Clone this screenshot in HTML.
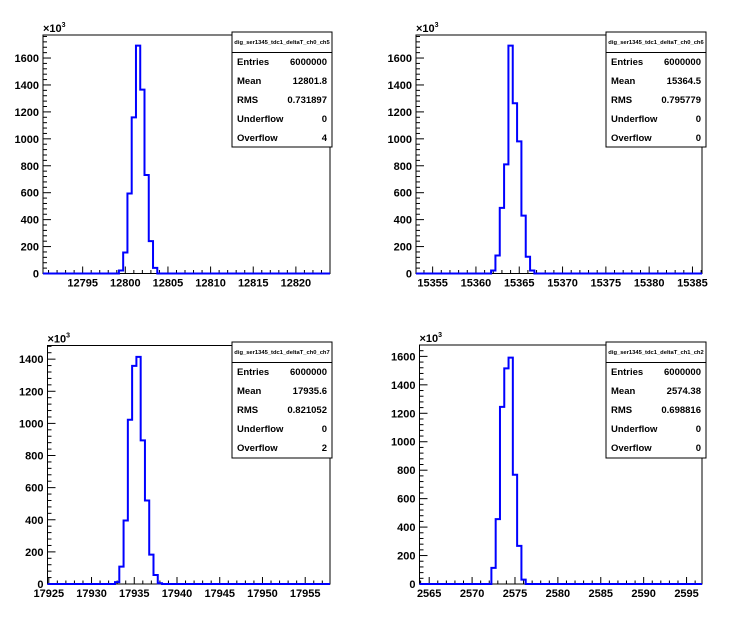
<!DOCTYPE html>
<html><head><meta charset="utf-8"><style>
body{margin:0;background:#fff;width:746px;height:622px;overflow:hidden}
svg{display:block;font-family:"Liberation Sans",Arial,sans-serif}
.tk{font-size:11px;font-weight:bold;fill:#000}
.st{font-size:9.5px;font-weight:bold;fill:#000}
</style></head><body>
<svg id="c" width="746" height="622" viewBox="0 0 746 622"></svg>
<script>
// ---- data ----
const titles = ["dig_ser1345_tdc1_deltaT_ch0_ch5","dig_ser1345_tdc1_deltaT_ch0_ch6","dig_ser1345_tdc1_deltaT_ch0_ch7","dig_ser1345_tdc1_deltaT_ch1_ch2"];
const countsA = [22,156,594,1159,1692,1365,731,240,42];
const countsB = [22,134,487,810,1692,1264,981,430,124,22];
const countsC = [12,108,395,1023,1358,1414,894,520,183,56,5];
const countsD = [113,456,1245,1516,1591,768,268,31];
const binStarts = [12799.25,15361.75,17932.75,2572.25];
const binWidth = 0.5;
const xMins = [12790.35,15353.08,17924.85,2563.87];
const xMaxs = [12824.0,15386.1,17957.9,2596.8];
const yMaxs = [1771,1771,1485,1680];
const yMajor = [200,200,200,200];
const xTickLabels = [["12795","12800","12805","12810","12815","12820"],["15355","15360","15365","15370","15375","15380","15385"],["17925","17930","17935","17940","17945","17950","17955"],["2565","2570","2575","2580","2585","2590","2595"]];
const statLabels = ["Entries","Mean","RMS","Underflow","Overflow"];
const statValues = [["6000000","12801.8","0.731897","0","4"],["6000000","15364.5","0.795779","0","0"],["6000000","17935.6","0.821052","0","2"],["6000000","2574.38","0.698816","0","0"]];
const allCounts = [countsA,countsB,countsC,countsD];
// ---- layout ----
const frames = [{l:43,r:330,t:35,b:273.5},{l:416,r:702,t:35,b:273.5},{l:47.5,r:330,t:345.5,b:584},{l:419.5,r:702,t:345,b:584}];
const boxes = [{l:232,r:332,t:32,b:147},{l:606,r:706,t:32,b:147},{l:232,r:332,t:342,b:458},{l:606,r:706,t:342,b:458}];
const svg = document.getElementById('c');
const NS = "http://www.w3.org/2000/svg";
function mk(tag, attrs, parent){const e=document.createElementNS(NS,tag);for(const k in attrs)e.setAttribute(k,attrs[k]);(parent||svg).appendChild(e);return e;}
for(let p=0;p<4;p++){
  const f=frames[p];
  const g=mk('g',{});
  
  
  const X=v=>f.l+(v-xMins[p])/(xMaxs[p]-xMins[p])*(f.r-f.l);
  const Y=v=>f.b-v/yMaxs[p]*(f.b-f.t);
  const fr=mk('rect',{x:f.l,y:f.t,width:f.r-f.l,height:f.b-f.t,fill:'none',stroke:'#000','stroke-width':1},g);
  
  
  // y ticks
  for(let v=0;v<=yMaxs[p];v+=yMajor[p]/5){
    const maj=Math.abs(v/yMajor[p]-Math.round(v/yMajor[p]))<1e-6;
    mk('line',{x1:f.l,x2:f.l+(maj?8:4),y1:Y(v),y2:Y(v),stroke:'#000','stroke-width':1},g);
    if(maj){const t=mk('text',{x:f.l-4,y:Y(v)+4,'text-anchor':'end',class:'tk'},g);t.textContent=Math.round(v);
      
      }
  }
  const ex=mk('text',{x:f.l,y:f.t-3,class:'tk','font-weight':'normal'},g);
  ex.innerHTML='×10<tspan dy="-5" font-size="7">3</tspan>';
  
  
  // x ticks
  const lbls=xTickLabels[p];
  const first=parseFloat(lbls[0])-5;
  for(let v=Math.ceil(xMins[p]);v<=xMaxs[p];v++){
    const maj=((v-first)%5+5)%5===0;
    mk('line',{x1:X(v),x2:X(v),y1:f.b,y2:f.b-(maj?7:3.5),stroke:'#000','stroke-width':1},g);
  }
  for(const s of lbls){const t=mk('text',{x:X(parseFloat(s)),y:f.b+13,'text-anchor':'middle',class:'tk'},g);t.textContent=s;
    
    }
  // histogram
  const c=allCounts[p];
  let d='M'+X(xMins[p])+' '+Y(0)+' L'+X(binStarts[p])+' '+Y(0);
  for(let i=0;i<c.length;i++){const x0=X(binStarts[p]+i*binWidth),x1=X(binStarts[p]+(i+1)*binWidth);d+=' L'+x0+' '+Y(c[i])+' L'+x1+' '+Y(c[i]);}
  d+=' L'+X(binStarts[p]+c.length*binWidth)+' '+Y(0)+' L'+X(xMaxs[p])+' '+Y(0);
  const h=mk('path',{d:d,fill:'none',stroke:'#0000ff','stroke-width':2},g);
  
  
  // stats box
  const b=boxes[p];
  const sb=mk('g',{},g);
  
  
  mk('rect',{x:b.l,y:b.t,width:b.r-b.l,height:b.b-b.t,fill:'#fff',stroke:'#000','stroke-width':1},sb);
  mk('line',{x1:b.l,x2:b.r,y1:b.t+20.5,y2:b.t+20.5,stroke:'#000','stroke-width':1},sb);
  const tt=mk('text',{x:(b.l+b.r)/2,y:b.t+12,'text-anchor':'middle','font-size':'5.8px','font-weight':'bold'},sb);tt.textContent=titles[p];
  
  
  for(let i=0;i<5;i++){
    const yy=b.t+33+i*19;
    const a=mk('text',{x:b.l+5,y:yy,class:'st'},sb);a.textContent=statLabels[i];
    
    
    const v=mk('text',{x:b.r-5,y:yy,class:'st','text-anchor':'end'},sb);v.textContent=statValues[p][i];
    
    
  }
}
</script>
</body></html>
